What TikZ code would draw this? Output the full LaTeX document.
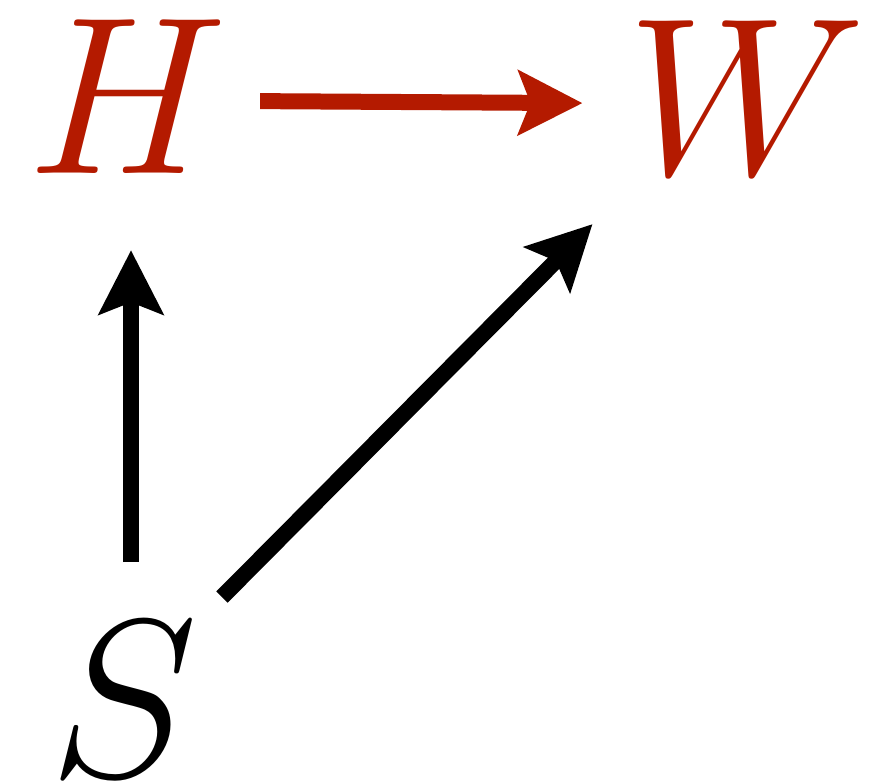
\RequirePackage{fix-cm}
\documentclass[tikz,border=0pt]{standalone}
\usetikzlibrary{arrows.meta,calc}
\definecolor{dagred}{HTML}{B41A00}
\tikzset{
  lbl/.style={inner sep=0pt, anchor=base, font=\fontsize{225}{225}\selectfont},
  arr/.style={line width=16pt, -{Stealth[length=64pt, width=64pt, inset=12pt]}},
}
\begin{document}
\begin{tikzpicture}[x=1pt, y=-1pt]
\useasboundingbox (0,0) rectangle (873,784);
\node[lbl, text=dagred] (H) at (127,173) {$H$};
\node[lbl, text=dagred] (W) at (747,174) {$W$};
\node[lbl] (S) at (124,776) {$S$};
\draw[arr, dagred] ($(H.east)+(33,5)$) -- ($(W.west)+(-45,6)$);
\draw[arr] ($(S.north)+(7,-60)$) -- ($(H.south)+(4,77)$);
\draw[arr] ($(S.north)+(98,-25)$) -- ($(W.west)+(-35,127)$);
\end{tikzpicture}
\end{document}
